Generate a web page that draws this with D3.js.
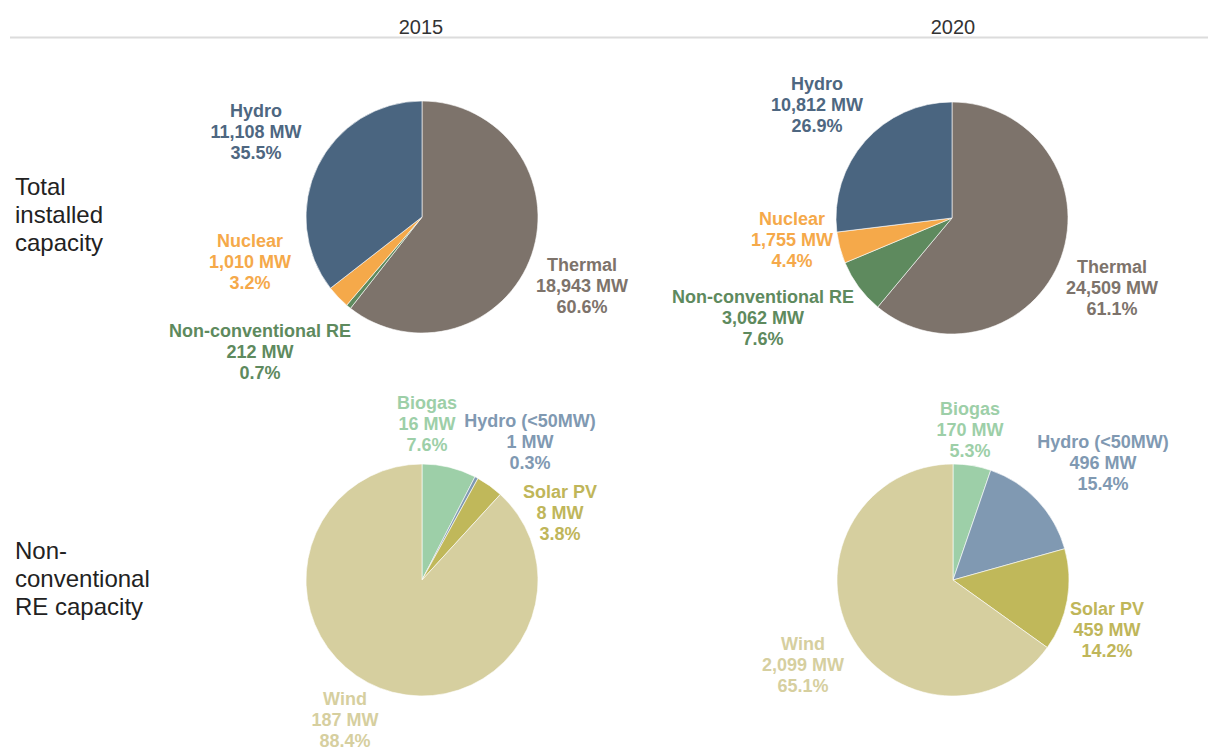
<!DOCTYPE html>
<html><head><meta charset="utf-8">
<script src="https://cdn.jsdelivr.net/npm/d3@7"></script>
<style>
html,body{margin:0;padding:0;background:#fff;}
svg{display:block;}
</style></head>
<body>
<svg id="chart" width="1208" height="754"></svg>
<script>
// ---- data ----
const years = ["2015", "2020"];
const rowTitles = [["Total", "installed", "capacity"], ["Non-", "conventional", "RE capacity"]];

const totalCategories = ["Thermal", "Non-conventional RE", "Nuclear", "Hydro"];
const total2015MW = [18943, 212, 1010, 11108];
const total2015Pct = ["60.6%", "0.7%", "3.2%", "35.5%"];
const total2020MW = [24509, 3062, 1755, 10812];
const total2020Pct = ["61.1%", "7.6%", "4.4%", "26.9%"];

const reCategories = ["Biogas", "Hydro (<50MW)", "Solar PV", "Wind"];
const re2015MW = [16, 1, 8, 187];
const re2015Pct = ["7.6%", "0.3%", "3.8%", "88.4%"];
const re2020MW = [170, 496, 459, 2099];
const re2020Pct = ["5.3%", "15.4%", "14.2%", "65.1%"];

// ---- styles / layout ----
const totalColors = ["#7d736b", "#5e8a5e", "#f5a94a", "#4a6580"];
const totalTextColors = ["#7d736b", "#5e8a5e", "#f5a94a", "#4e6781"];
const reColors = ["#9dcfa8", "#8099b2", "#c0b85a", "#d6cf9f"];
const reTextColors = ["#9dcfa8", "#8099b2", "#bfb65a", "#d6cf9f"];

const pies = [
  {cx: 422, cy: 217, cats: totalCategories, mw: total2015MW, pct: total2015Pct, colors: totalColors, tcolors: totalTextColors,
   labels: [[582, 266], [260, 332], [250, 242], [256, 112]]},
  {cx: 952, cy: 218, cats: totalCategories, mw: total2020MW, pct: total2020Pct, colors: totalColors, tcolors: totalTextColors,
   labels: [[1112, 268], [763, 298], [792, 220], [817, 85]]},
  {cx: 422, cy: 580, cats: reCategories, mw: re2015MW, pct: re2015Pct, colors: reColors, tcolors: reTextColors,
   labels: [[427, 404], [530, 422], [560, 493], [345, 700]]},
  {cx: 953, cy: 580, cats: reCategories, mw: re2020MW, pct: re2020Pct, colors: reColors, tcolors: reTextColors,
   labels: [[970, 410], [1103, 443], [1107, 610], [803, 645]]}
];
const R = 116;
const yearX = [421, 953];

const svg = d3.select("#chart");
const fmt = d3.format(",");

// header
svg.append("line").attr("x1", 10).attr("x2", 1208).attr("y1", 37.5).attr("y2", 37.5)
  .attr("stroke", "#dcdcdc").attr("stroke-width", 2);
svg.selectAll("text.year").data(years).join("text").attr("class", "year")
  .attr("x", (d, i) => yearX[i]).attr("y", 34)
  .attr("text-anchor", "middle")
  .attr("font-family", "'Liberation Sans',Arial,sans-serif")
  .attr("font-size", 20).attr("fill", "#333").text(d => d);

// row titles
const rowY = [189, 553];
rowTitles.forEach((lines, r) => {
  const t = svg.append("text").attr("x", 15).attr("y", rowY[r])
    .attr("font-family", "'Liberation Sans',Arial,sans-serif").attr("font-size", 24).attr("fill", "#222");
  lines.forEach((l, i) => t.append("tspan").attr("x", 15).attr("y", rowY[r] + i * 28)
    .attr("dominant-baseline", "middle").text(l));
});

const pie = d3.pie().sort(null).value(d => d);
const arc = d3.arc().innerRadius(0).outerRadius(R);

pies.forEach(p => {
  const g = svg.append("g").attr("transform", `translate(${p.cx},${p.cy})`);
  g.selectAll("path").data(pie(p.mw)).join("path")
    .attr("d", arc).attr("fill", (d, i) => p.colors[i])
    .attr("stroke", "#fff").attr("stroke-width", 0.6);
  p.cats.forEach((c, i) => {
    const [lx, ly] = p.labels[i];
    const t = svg.append("text").attr("text-anchor", "middle")
      .attr("font-family", "'Liberation Sans',Arial,sans-serif").attr("font-weight", "bold")
      .attr("font-size", 18).attr("fill", p.tcolors[i]);
    [c, fmt(p.mw[i]) + " MW", p.pct[i]].forEach((s, k) => {
      t.append("tspan").attr("x", lx).attr("y", ly + k * 21).attr("dominant-baseline", "middle").text(s);
    });
  });
});
</script>
</body></html>
